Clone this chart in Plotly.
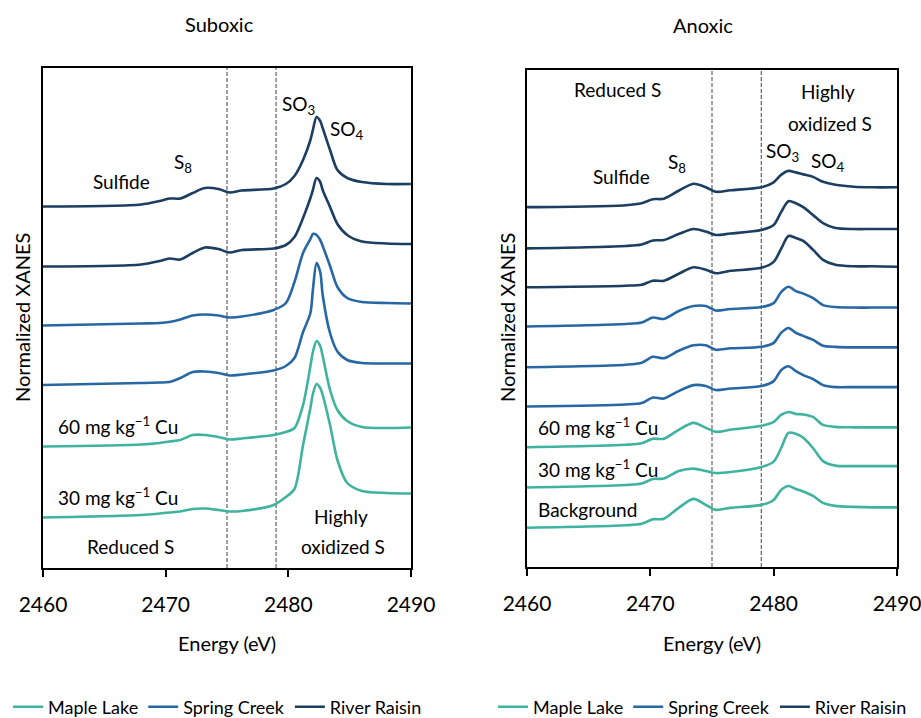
import plotly.graph_objects as go

# ---------------- data ----------------
E_SUBOXIC = [2460, 2468, 2469.5, 2470.3, 2471.2, 2472.2, 2473.2, 2474.3, 2475.2, 2476.2,
             2478.8, 2479.8, 2480.5, 2481.2, 2481.8, 2482.0, 2482.3, 2482.6, 2482.8,
             2483.4, 2484.0, 2484.8, 2486, 2488, 2490]
SUB_RIVER_1 = [7.23, 7.27, 7.34, 7.39, 7.39, 7.50, 7.60, 7.58, 7.51, 7.55, 7.59, 7.68,
               7.84, 8.16, 8.56, 8.76, 9.02, 8.94, 8.80, 8.36, 7.96, 7.80, 7.72, 7.68, 7.68]
SUB_RIVER_2 = [6.03, 6.07, 6.14, 6.19, 6.17, 6.30, 6.41, 6.38, 6.31, 6.36, 6.39, 6.46,
               6.62, 7.00, 7.40, 7.56, 7.80, 7.72, 7.56, 7.22, 6.88, 6.66, 6.53, 6.49, 6.48]
SUB_SPRING_1 = [4.85, 4.89, 4.90, 4.92, 4.97, 5.05, 5.07, 5.05, 5.01, 5.03, 5.16, 5.30,
                5.72, 6.30, 6.58, 6.68, 6.66, 6.56, 6.44, 6.04, 5.62, 5.40, 5.32, 5.30, 5.29]
SUB_SPRING_2 = [3.66, 3.70, 3.71, 3.72, 3.80, 3.92, 3.93, 3.90, 3.85, 3.87, 3.95, 4.04,
                4.20, 4.72, 5.10, 5.56, 6.10, 5.92, 5.46, 4.70, 4.33, 4.16, 4.10, 4.09, 4.09]
SUB_MAPLE_60 = [2.43, 2.47, 2.50, 2.53, 2.56, 2.66, 2.66, 2.62, 2.57, 2.59, 2.66, 2.72,
                2.80, 3.26, 4.04, 4.32, 4.54, 4.44, 4.24, 3.56, 3.16, 2.94, 2.82, 2.80, 2.81]
SUB_MAPLE_30 = [1.01, 1.06, 1.09, 1.11, 1.13, 1.18, 1.19, 1.16, 1.13, 1.14, 1.26, 1.42,
                1.58, 2.46, 3.20, 3.48, 3.68, 3.60, 3.46, 2.86, 2.16, 1.70, 1.54, 1.50, 1.49]

E_ANOXIC = [2460, 2468, 2469.3, 2470.2, 2471.1, 2472.3, 2473.5, 2474.5, 2475.3, 2476.5,
            2479, 2480, 2480.6, 2481.2, 2481.8, 2482.4, 2483.2, 2484.0, 2485, 2486.5,
            2488, 2490]
ANO_RIVER_1 = [7.24, 7.28, 7.32, 7.40, 7.41, 7.57, 7.71, 7.64, 7.55, 7.58, 7.64, 7.74,
               7.89, 7.97, 7.94, 7.90, 7.85, 7.75, 7.69, 7.65, 7.64, 7.64]
ANO_RIVER_2 = [6.41, 6.46, 6.49, 6.57, 6.58, 6.70, 6.80, 6.75, 6.68, 6.71, 6.78, 6.88,
               7.14, 7.36, 7.32, 7.24, 7.08, 6.92, 6.82, 6.80, 6.80, 6.80]
ANO_RIVER_3 = [5.63, 5.66, 5.68, 5.76, 5.76, 5.90, 6.03, 5.98, 5.91, 5.96, 6.02, 6.14,
               6.40, 6.66, 6.62, 6.56, 6.38, 6.18, 6.08, 6.05, 6.05, 6.04]
ANO_SPRING_1 = [4.84, 4.89, 4.92, 5.02, 4.99, 5.15, 5.25, 5.25, 5.16, 5.19, 5.23, 5.31,
                5.53, 5.64, 5.55, 5.50, 5.41, 5.27, 5.23, 5.22, 5.22, 5.22]
ANO_SPRING_2 = [4.02, 4.07, 4.11, 4.23, 4.20, 4.35, 4.46, 4.46, 4.37, 4.40, 4.43, 4.51,
                4.71, 4.81, 4.71, 4.65, 4.57, 4.45, 4.43, 4.42, 4.42, 4.42]
ANO_SPRING_3 = [3.23, 3.27, 3.30, 3.41, 3.39, 3.54, 3.66, 3.64, 3.56, 3.59, 3.64, 3.74,
                3.96, 4.04, 3.94, 3.86, 3.78, 3.66, 3.62, 3.62, 3.62, 3.62]
ANO_MAPLE_60 = [2.41, 2.46, 2.49, 2.58, 2.58, 2.76, 2.90, 2.80, 2.72, 2.76, 2.84, 2.92,
                3.06, 3.12, 3.08, 3.07, 3.02, 2.86, 2.82, 2.81, 2.81, 2.81]
ANO_MAPLE_30 = [1.60, 1.65, 1.68, 1.77, 1.78, 1.93, 1.98, 1.93, 1.89, 1.91, 2.01, 2.12,
                2.39, 2.70, 2.68, 2.60, 2.39, 2.13, 2.04, 2.03, 2.03, 2.03]
ANO_BACKGROUND = [0.79, 0.84, 0.87, 0.96, 0.97, 1.19, 1.37, 1.25, 1.15, 1.19, 1.25, 1.35,
                  1.55, 1.63, 1.57, 1.52, 1.43, 1.29, 1.23, 1.21, 1.20, 1.20]

SITES = ["Maple Lake", "Spring Creek", "River Raisin"]
COLORS = {"Maple Lake": "#3FB3A0", "Spring Creek": "#2767A3", "River Raisin": "#1C3E60"}
X_TICKS = [2460, 2470, 2480, 2490]
BOUNDARIES = [2475, 2479]

SUBOXIC = [("River Raisin", SUB_RIVER_1), ("River Raisin", SUB_RIVER_2),
           ("Spring Creek", SUB_SPRING_1), ("Spring Creek", SUB_SPRING_2),
           ("Maple Lake", SUB_MAPLE_60), ("Maple Lake", SUB_MAPLE_30)]
ANOXIC = [("River Raisin", ANO_RIVER_1), ("River Raisin", ANO_RIVER_2),
          ("River Raisin", ANO_RIVER_3), ("Spring Creek", ANO_SPRING_1),
          ("Spring Creek", ANO_SPRING_2), ("Spring Creek", ANO_SPRING_3),
          ("Maple Lake", ANO_MAPLE_60), ("Maple Lake", ANO_MAPLE_30),
          ("Maple Lake", ANO_BACKGROUND)]

FONT = "Lato, Roboto, sans-serif"
W, H = 921, 718
LABEL_SIZE = 19

fig = go.Figure()


def add_panel(spectra, energies, xa, ya, legend_name):
    seen = set()
    for site, vals in spectra:
        show = site not in seen
        seen.add(site)
        fig.add_trace(go.Scatter(
            x=energies, y=vals, mode="lines", name=site,
            line=dict(color=COLORS[site], width=2.6, shape="spline", smoothing=0.8),
            xaxis=xa, yaxis=ya, showlegend=show, legend=legend_name,
            legendrank=SITES.index(site) + 1, hoverinfo="skip"))


add_panel(SUBOXIC, E_SUBOXIC, "x", "y", "legend")
add_panel(ANOXIC, E_ANOXIC, "x2", "y2", "legend2")


def px_x(p):
    return p / W


def px_y(p):
    return 1 - p / H


axis_common = dict(showline=True, linecolor="black", linewidth=1.6, mirror=True,
                   showgrid=False, zeroline=False)
xaxis_common = dict(range=[2460, 2490], tickvals=X_TICKS, ticks="outside", ticklen=7,
                    tickwidth=1.6, tickcolor="black", ticklabelstandoff=10,
                    ticklabeloverflow="allow",
                    tickfont=dict(family=FONT, size=21, color="black"))
legend_common = dict(orientation="h", y=px_y(707), yanchor="middle", xanchor="left",
                     font=dict(family=FONT, size=18, color="black"),
                     bgcolor="rgba(0,0,0,0)", itemwidth=30)

fig.update_layout(
    width=W, height=H, margin=dict(l=0, r=0, t=0, b=0, autoexpand=False),
    paper_bgcolor="white", plot_bgcolor="white",
    font=dict(family=FONT, size=LABEL_SIZE, color="black"),
    xaxis=dict(domain=[px_x(43), px_x(411)], anchor="y", **xaxis_common, **axis_common),
    yaxis=dict(domain=[px_y(568), px_y(68)], range=[0, 10], showticklabels=False,
               ticks="", anchor="x", **axis_common),
    xaxis2=dict(domain=[px_x(527), px_x(897)], anchor="y2", **xaxis_common, **axis_common),
    yaxis2=dict(domain=[px_y(567), px_y(70)], range=[0, 10], showticklabels=False,
                ticks="", anchor="x2", **axis_common),
    legend=dict(x=px_x(8), **legend_common),
    legend2=dict(x=px_x(493), **legend_common),
    showlegend=True,
)

# dashed boundaries
for xa, ya in (("x", "y"), ("x2", "y2")):
    for b in BOUNDARIES:
        fig.add_shape(type="line", xref=xa, yref=f"{ya} domain", x0=b, x1=b, y0=0, y1=1,
                      line=dict(color="#6E6E6E", width=1.3, dash="4px,2px"), layer="below")


def ann(text, x, y, xref="paper", yref="paper", size=LABEL_SIZE, xanchor="center", **kw):
    fig.add_annotation(text=text, x=x, y=y, xref=xref, yref=yref, showarrow=False,
                       xanchor=xanchor, yanchor="middle",
                       font=dict(family=FONT, size=size, color="black"), **kw)


# panel titles
ann("Suboxic", px_x(219), px_y(24), size=20)
ann("Anoxic", px_x(703), px_y(25), size=20)
# axis titles
ann("Energy (eV)", px_x(227), px_y(643), size=20)
ann("Energy (eV)", px_x(712), px_y(643), size=20)
ann("Normalized XANES", px_x(22), px_y(318), textangle=-90, size=20)
ann("Normalized XANES", px_x(507), px_y(318), textangle=-90, size=20)

# suboxic labels
ann("Sulfide", 2466.4, 7.74, "x", "y")
ann("S<sub>8</sub>", 2471.4, 8.1, "x", "y")
ann("SO<sub>3</sub>", 2480.8, 9.26, "x", "y")
ann("SO<sub>4</sub>", 2484.8, 8.76, "x", "y")
ann("60 mg kg<sup>−1</sup> Cu", 2461.1, 2.86, "x", "y", xanchor="left")
ann("30 mg kg<sup>−1</sup> Cu", 2461.1, 1.44, "x", "y", xanchor="left")
ann("Reduced S", 2467.1, 0.43, "x", "y")
ann("Highly", 2484.3, 1.03, "x", "y")
ann("oxidized S", 2484.45, 0.43, "x", "y")

# anoxic labels
ann("Reduced S", 2467.3, 9.6, "x2", "y2")
ann("Highly", 2484.4, 9.56, "x2", "y2")
ann("oxidized S", 2484.57, 8.93, "x2", "y2")
ann("Sulfide", 2467.7, 7.85, "x2", "y2")
ann("S<sub>8</sub>", 2472.2, 8.13, "x2", "y2")
ann("SO<sub>3</sub>", 2480.7, 8.36, "x2", "y2")
ann("SO<sub>4</sub>", 2484.4, 8.15, "x2", "y2")
ann("60 mg kg<sup>−1</sup> Cu", 2460.7, 2.82, "x2", "y2", xanchor="left")
ann("30 mg kg<sup>−1</sup> Cu", 2460.7, 1.99, "x2", "y2", xanchor="left")
ann("Background", 2460.7, 1.15, "x2", "y2", xanchor="left")

fig.write_html("out.html")
